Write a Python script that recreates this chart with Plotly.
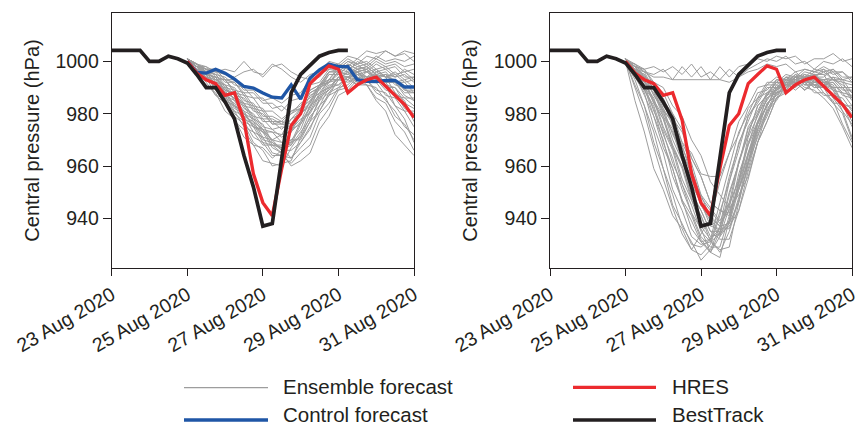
import pandas as pd
import plotly.graph_objects as go
from plotly.subplots import make_subplots

# ---------------- data ----------------
BT_TIMES = pd.date_range("2020-08-23 00:00", periods=26, freq="6h")
FC_TIMES = pd.date_range("2020-08-25 00:00", periods=25, freq="6h")

BESTTRACK = [1004.2, 1004.2, 1004.2, 1004.2, 1000, 1000, 1002, 1001, 999.4, 995, 990, 990,
             984.5, 978, 964, 952, 937, 938, 963, 988, 995, 998.7, 1002, 1003.4, 1004.2, 1004.2]

HRES = [1000, 995.5, 993, 991.5, 987, 988, 977.5, 957, 946, 941, 959, 975.5, 980, 991.5,
        995, 998.3, 997, 988, 991, 993, 994, 990.5, 987, 983.5, 978.5]

CONTROL = [1000, 995.8, 995.5, 997, 995.5, 993.2, 990.4, 989.8, 987.9, 986.3, 986, 991, 985.6,
           993.6, 996.8, 999, 998, 998, 993, 992.4, 992.3, 992.7, 992.7, 990.2, 990.2]

ENS_LEFT = [
    [1000, 998, 995, 994, 989, 987, 984, 978, 976, 969, 967, 963, 967, 971, 980, 984, 990, 991, 995, 994, 997, 994, 993, 989, 988],
    [1001, 996, 992, 987, 986, 979, 976, 969, 966, 960, 961, 962, 971, 977, 986, 989, 994, 994, 995, 992, 993, 989, 988, 982, 980],
    [1000, 999, 996, 996, 992, 992, 988, 988, 984, 984, 981, 985, 986, 991, 992, 997, 997, 1000, 999, 1002, 1001, 1004, 1002, 1003, 1000],
    [1001, 999, 998, 996, 997, 996, 1000, 996, 995, 999, 997, 994, 992, 995, 996, 1000, 999, 1002, 1001, 1004, 1003, 1004, 1002, 1004, 1003],
    [1000, 997, 993, 991, 985, 983, 977, 975, 969, 968, 965, 970, 974, 983, 987, 993, 993, 996, 992, 991, 985, 981, 972, 968, 964],
    [1001, 998, 996, 991, 990, 985, 983, 977, 974, 968, 968, 969, 977, 982, 990, 992, 996, 995, 996, 992, 992, 987, 986, 981, 981],
    [1000, 995, 991, 988, 981, 978, 971, 968, 962, 961, 960, 967, 972, 981, 985, 991, 991, 994, 992, 993, 989, 988, 983, 981, 975],
    [1001, 999, 995, 994, 989, 988, 983, 982, 977, 977, 974, 978, 980, 987, 989, 995, 995, 998, 996, 997, 994, 995, 992, 993, 990],
    [1000, 997, 996, 990, 988, 982, 980, 975, 974, 970, 972, 973, 980, 984, 991, 992, 996, 995, 997, 994, 995, 992, 992, 988, 988],
    [1001, 998, 997, 993, 993, 988, 987, 982, 981, 976, 976, 975, 981, 984, 991, 993, 998, 997, 999, 996, 997, 994, 995, 992, 993],
    [1000, 996, 994, 987, 984, 977, 974, 968, 967, 963, 966, 968, 976, 981, 988, 990, 994, 993, 996, 993, 994, 990, 990, 986, 986],
    [1001, 998, 998, 994, 993, 989, 988, 983, 982, 977, 977, 974, 978, 980, 987, 989, 994, 994, 997, 996, 999, 997, 998, 994, 994],
    [1000, 997, 996, 991, 989, 983, 981, 975, 973, 967, 965, 960, 962, 965, 974, 979, 987, 989, 993, 992, 995, 992, 992, 987, 985],
    [1001, 998, 995, 994, 989, 988, 982, 980, 975, 974, 971, 974, 976, 983, 986, 992, 993, 997, 996, 997, 993, 991, 983, 978, 969],
    [1000, 999, 997, 997, 993, 993, 989, 989, 985, 986, 984, 987, 988, 993, 994, 998, 998, 1001, 999, 1000, 997, 998, 995, 996, 993],
    [1001, 996, 995, 989, 987, 980, 977, 971, 969, 964, 964, 963, 969, 974, 983, 987, 993, 993, 996, 994, 995, 992, 993, 989, 989],
    [1000, 998, 995, 994, 988, 986, 980, 978, 973, 973, 972, 978, 982, 989, 991, 996, 996, 999, 997, 998, 995, 994, 988, 985, 977],
    [1001, 999, 996, 995, 990, 989, 984, 983, 978, 978, 976, 980, 982, 988, 990, 995, 995, 998, 995, 996, 993, 995, 994, 997, 995],
    [1000, 998, 993, 991, 984, 981, 975, 973, 968, 968, 967, 973, 977, 985, 988, 993, 993, 996, 993, 993, 988, 986, 979, 976, 970],
    [1001, 999, 997, 997, 993, 992, 987, 986, 981, 981, 978, 981, 982, 988, 990, 996, 997, 1000, 998, 999, 996, 997, 994, 995, 992],
    [1000, 997, 993, 992, 986, 984, 978, 976, 970, 969, 966, 969, 971, 979, 983, 990, 991, 994, 991, 991, 986, 984, 977, 973, 966],
    [1001, 998, 997, 992, 991, 985, 984, 979, 978, 974, 975, 974, 980, 983, 990, 992, 996, 995, 998, 997, 1000, 998, 999, 996, 997],
    [1000, 998, 994, 993, 988, 986, 981, 979, 974, 973, 969, 970, 970, 977, 981, 988, 990, 994, 993, 996, 994, 995, 991, 990, 985],
    [1001, 999, 996, 995, 991, 990, 985, 984, 979, 979, 977, 981, 983, 989, 991, 996, 996, 999, 997, 998, 995, 996, 992, 992, 988],
    [1000, 997, 995, 989, 987, 981, 979, 973, 971, 965, 964, 961, 965, 968, 977, 982, 989, 990, 994, 993, 995, 991, 990, 984, 982],
    [1000, 998, 994, 992, 987, 985, 979, 977, 971, 970, 966, 966, 969, 975, 981, 987, 989, 993, 991, 994, 992, 992, 987, 986, 983],
    [1001, 999, 997, 995, 994, 991, 990, 986, 986, 982, 983, 980, 984, 986, 991, 993, 997, 996, 1000, 998, 1001, 999, 1000, 998, 999],
    [1000, 997, 994, 990, 988, 983, 980, 976, 973, 970, 969, 968, 973, 978, 985, 988, 993, 992, 994, 991, 990, 985, 981, 975, 972],
    [1001, 998, 996, 993, 991, 987, 986, 981, 980, 976, 977, 976, 982, 985, 991, 992, 995, 994, 996, 993, 996, 994, 996, 993, 994],
    [1000, 999, 997, 996, 995, 994, 996, 997, 994, 998, 999, 996, 994, 993, 995, 997, 999, 998, 1001, 999, 1002, 1000, 1001, 1000, 1002],
]

ENS_RIGHT = [
    [1000, 985, 973, 959, 951, 941, 936, 928, 934, 940, 954, 965, 977, 983, 990, 991, 994, 993, 992, 989, 992, 992, 993, 989, 989],
    [1000, 991, 983, 969, 959, 945, 938, 930, 929, 932, 946, 959, 973, 980, 988, 989, 993, 992, 995, 991, 991, 990, 994, 993, 994],
    [1001, 995, 991, 981, 973, 961, 953, 942, 936, 927, 933, 944, 961, 972, 983, 987, 992, 992, 992, 989, 993, 993, 994, 990, 990],
    [1000, 995, 987, 979, 967, 959, 947, 941, 932, 927, 925, 939, 954, 971, 979, 987, 989, 993, 992, 992, 988, 988, 984, 984, 979],
    [1001, 996, 993, 984, 978, 967, 959, 947, 941, 931, 928, 929, 946, 961, 976, 983, 990, 990, 993, 992, 995, 991, 989, 981, 976],
    [1000, 997, 990, 985, 974, 966, 953, 945, 935, 931, 934, 949, 961, 975, 981, 988, 989, 992, 989, 992, 992, 992, 986, 981, 971],
    [1001, 997, 995, 987, 981, 970, 962, 950, 943, 935, 932, 932, 943, 955, 969, 977, 986, 988, 992, 992, 995, 992, 991, 984, 980],
    [1000, 998, 992, 988, 979, 973, 962, 955, 945, 941, 937, 945, 955, 969, 977, 986, 988, 993, 993, 996, 995, 995, 989, 984, 975],
    [1001, 997, 996, 989, 985, 975, 968, 956, 949, 940, 937, 938, 951, 962, 976, 983, 990, 991, 994, 993, 996, 995, 996, 992, 991],
    [1000, 997, 989, 982, 969, 959, 946, 939, 931, 932, 936, 950, 961, 974, 980, 988, 990, 994, 993, 994, 991, 991, 986, 984, 977],
    [1001, 996, 993, 985, 979, 968, 960, 948, 941, 933, 934, 939, 954, 965, 977, 983, 990, 991, 994, 991, 994, 994, 997, 994, 994],
    [1000, 999, 994, 992, 985, 980, 969, 961, 949, 944, 939, 946, 954, 968, 976, 986, 989, 994, 994, 997, 996, 997, 993, 992, 986],
    [1001, 998, 997, 991, 988, 980, 974, 963, 956, 946, 943, 941, 951, 961, 974, 981, 989, 991, 995, 994, 995, 991, 990, 984, 982],
    [1001, 999, 996, 995, 997, 993, 998, 994, 998, 993, 998, 994, 998, 999, 1001, 1000, 1002, 1001, 1002, 999, 1001, 1001, 1003, 1000, 1001],
    [1000, 998, 996, 994, 994, 993, 993, 993, 993, 993, 993, 992, 994, 996, 997, 999, 998, 999, 996, 997, 996, 998, 996, 996, 992],
    [1000, 997, 992, 989, 981, 977, 969, 965, 957, 956, 956, 965, 972, 982, 986, 992, 992, 995, 994, 995, 992, 993, 989, 988, 983],
    [1000, 994, 988, 975, 965, 951, 943, 933, 930, 931, 943, 954, 969, 977, 986, 988, 992, 991, 992, 989, 992, 991, 992, 988, 987],
    [1001, 997, 991, 986, 975, 967, 955, 947, 937, 932, 927, 935, 947, 964, 974, 984, 987, 991, 990, 993, 990, 990, 984, 980, 970],
    [1000, 998, 993, 990, 982, 976, 965, 957, 945, 939, 933, 938, 946, 961, 971, 982, 986, 992, 991, 994, 994, 997, 995, 996, 993],
    [1001, 995, 990, 979, 970, 956, 947, 936, 931, 927, 935, 946, 962, 972, 983, 987, 993, 993, 996, 993, 993, 988, 985, 976, 969],
    [1000, 997, 992, 989, 980, 974, 963, 956, 945, 940, 934, 937, 943, 958, 969, 981, 985, 991, 991, 994, 992, 993, 990, 990, 986],
    [1001, 998, 994, 991, 983, 978, 967, 959, 948, 943, 938, 943, 951, 965, 974, 984, 987, 992, 992, 995, 994, 996, 993, 993, 988],
    [1000, 996, 992, 984, 978, 967, 960, 949, 943, 935, 935, 939, 953, 964, 977, 983, 990, 991, 994, 991, 991, 987, 987, 983, 983],
    [1001, 998, 997, 992, 990, 983, 979, 970, 964, 954, 949, 944, 949, 956, 969, 977, 986, 989, 994, 994, 997, 996, 997, 993, 992],
    [1000, 997, 995, 989, 986, 978, 973, 963, 956, 946, 943, 942, 952, 961, 973, 980, 988, 990, 994, 993, 995, 992, 992, 987, 986],
    [1000, 999, 997, 998, 996, 998, 995, 999, 994, 996, 993, 997, 994, 997, 999, 1001, 1000, 1002, 999, 1000, 997, 1000, 999, 1001, 998],
    [1000, 993, 983, 973, 959, 949, 937, 931, 924, 928, 937, 954, 966, 979, 985, 991, 991, 994, 992, 993, 990, 991, 987, 986, 981],
    [1000, 996, 989, 983, 972, 963, 951, 942, 933, 929, 929, 941, 957, 968, 980, 985, 991, 990, 993, 990, 989, 986, 982, 975, 967],
    [1001, 997, 994, 987, 982, 972, 965, 953, 946, 937, 936, 936, 948, 959, 972, 979, 988, 989, 993, 992, 994, 993, 993, 991, 988],
    [1000, 990, 980, 967, 955, 944, 934, 928, 926, 930, 941, 956, 968, 979, 984, 990, 990, 993, 991, 993, 991, 992, 990, 990, 985],
]

X_TICKS = ["2020-08-23", "2020-08-25", "2020-08-27", "2020-08-29", "2020-08-31"]
X_TICK_LABELS = ["23 Aug 2020", "25 Aug 2020", "27 Aug 2020", "29 Aug 2020", "31 Aug 2020"]
Y_TICKS = [940, 960, 980, 1000]
LEGEND_LABELS = ["Ensemble forecast", "Control forecast", "HRES", "BestTrack"]

# ---------------- styles ----------------
GRAY = "#9d9d9d"
BLUE = "#1f56a6"
RED = "#ec2a2e"
BLACK = "#231f20"
TXT = "#231f20"
FONT = "Liberation Sans, Arial, Helvetica, sans-serif"

W, H = 859, 428
ML, MR, MT, MB = 111, 7, 13, 160

fig = make_subplots(rows=1, cols=2, horizontal_spacing=0.0)

for col, ens in ((1, ENS_LEFT), (2, ENS_RIGHT)):
    for member in ens:
        fig.add_trace(go.Scatter(x=FC_TIMES, y=member, mode="lines",
                                 line=dict(color=GRAY, width=1), showlegend=False,
                                 hoverinfo="skip"), row=1, col=col)
    if col == 1:
        fig.add_trace(go.Scatter(x=FC_TIMES, y=CONTROL, mode="lines",
                                 line=dict(color=BLUE, width=3.3), showlegend=False,
                                 hoverinfo="skip"), row=1, col=col)
    fig.add_trace(go.Scatter(x=FC_TIMES, y=HRES, mode="lines",
                             line=dict(color=RED, width=3.3), showlegend=False,
                             hoverinfo="skip"), row=1, col=col)
    fig.add_trace(go.Scatter(x=BT_TIMES, y=BESTTRACK, mode="lines",
                             line=dict(color=BLACK, width=3.7), showlegend=False,
                             hoverinfo="skip"), row=1, col=col)

pw = W - ML - MR
ph = H - MT - MB


def px_x(px):
    return (px - ML) / pw


def px_y(py):
    return (H - MB - py) / ph


axis_common = dict(showline=True, linecolor=TXT, linewidth=1, mirror=True,
                   ticks="outside", tickcolor=TXT, tickwidth=1,
                   showgrid=False, zeroline=False,
                   tickfont=dict(family=FONT, size=19.5, color=TXT))

for i, (x0, x1) in enumerate(((111.7, 414), (550, 852))):
    xa = "xaxis" if i == 0 else "xaxis2"
    ya = "yaxis" if i == 0 else "yaxis2"
    fig.layout[xa].update(domain=[px_x(x0), px_x(x1)], type="date",
                          range=["2020-08-23 00:00", "2020-08-31 00:00"],
                          tickvals=X_TICKS, ticktext=X_TICK_LABELS, tickangle=-30,
                          ticklabeloverflow="allow", ticklen=7, **axis_common)
    fig.layout[ya].update(domain=[0, 1], range=[921, 1018.5], tickvals=Y_TICKS, ticklen=8,
                          title=dict(text="Central pressure (hPa)",
                                     font=dict(family=FONT, size=20, color=TXT), standoff=10),
                          **axis_common)

# legend drawn manually
leg_lines = [(184, 268, 387.7, GRAY, 1.3), (184, 268, 420, BLUE, 3.5),
             (573, 656, 387.3, RED, 3.3), (573, 656, 420, BLACK, 3.7)]
leg_text = [(281, 386), (281, 414.5), (670, 386), (670, 414.5)]
for (xa0, xa1, yy, c, w), (tx, ty), lab in zip(leg_lines, leg_text, LEGEND_LABELS):
    fig.add_shape(type="line", xref="paper", yref="paper",
                  x0=px_x(xa0), x1=px_x(xa1), y0=px_y(yy), y1=px_y(yy),
                  line=dict(color=c, width=w))
    fig.add_annotation(xref="paper", yref="paper", x=px_x(tx), y=px_y(ty),
                       text=lab, showarrow=False, xanchor="left", yanchor="middle",
                       font=dict(family=FONT, size=20.5, color=TXT))

fig.update_layout(width=W, height=H, margin=dict(l=ML, r=MR, t=MT, b=MB, autoexpand=False),
                  paper_bgcolor="white", plot_bgcolor="white", showlegend=False,
                  font=dict(family=FONT, color=TXT), hovermode=False)

fig.write_html("out.html", config={"displayModeBar": False})
